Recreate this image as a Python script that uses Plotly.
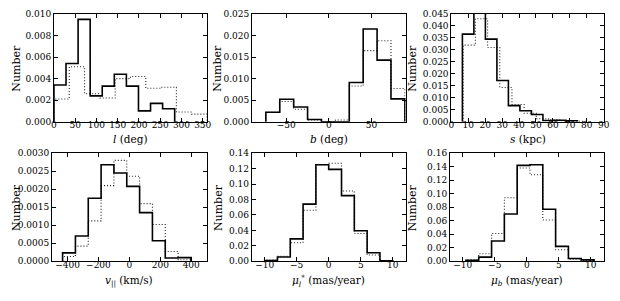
import plotly.graph_objects as go

# ---------------- data ----------------
# Panel 1: l (deg)
l_edges_solid = [0, 28.4, 56.8, 85.2, 113.6, 142.0, 170.4, 198.8, 227.2, 255.6, 284.0]
l_vals_solid = [0.0034, 0.0054, 0.0095, 0.0024, 0.0033, 0.0044, 0.0033, 0.0010, 0.0017, 0.0012]
l_edges_dot = [0, 36, 72, 108, 144, 180, 216, 252, 288, 324, 360]
l_vals_dot = [0.0021, 0.0051, 0.0026, 0.0022, 0.0040, 0.0042, 0.0031, 0.0032, 0.0009, 0.0007]

# Panel 2: b (deg)
b_edges_solid = [-73.8, -57.5, -41.2, -24.9, -8.6, 7.7, 24.0, 40.3, 56.6, 72.9, 89.2]
b_vals_solid = [0.0022, 0.0052, 0.0034, 0.0005, 0.0, 0.0, 0.0091, 0.0215, 0.0143, 0.0053]
b_edges_dot = [-73.8, -57.5, -41.2, -24.9, -8.6, 7.7, 24.0, 40.3, 56.6, 72.9, 89.2]
b_vals_dot = [0.0022, 0.0047, 0.0029, 0.0004, 0.0, 0.0004, 0.0083, 0.0165, 0.0188, 0.0077]

# Panel 3: s (kpc)
s_edges_solid = [6.5, 13.3, 20.1, 26.9, 33.7, 40.5, 47.3, 54.1, 60.9, 67.7, 74.5]
s_vals_solid = [0.0366, 0.048, 0.0345, 0.0172, 0.0067, 0.0046, 0.0030, 0.0005, 0.0006, 0.0004]
s_edges_dot = [7.0, 14.2, 21.4, 28.6, 35.8, 43.0, 50.2, 57.4, 64.6, 71.8, 79.0]
s_vals_dot = [0.032, 0.043, 0.031, 0.0143, 0.0072, 0.0035, 0.0012, 0.0008, 0.0004, 0.0002]

# Panel 4: v_|| (km/s)
v_edges_solid = [-432, -349, -266, -183, -100, -17, 66, 149, 232, 315, 398]
v_vals_solid = [0.00023, 0.00070, 0.00175, 0.00268, 0.00245, 0.00208, 0.00135, 0.00057, 0.00009, 0.00010]
v_edges_dot = [-432, -349, -266, -183, -100, -17, 66, 149, 232, 315, 398]
v_vals_dot = [0.00013, 0.00042, 0.00112, 0.00210, 0.00280, 0.00236, 0.00160, 0.00102, 0.00027, 0.00004]

# Panel 5: mu_l* (mas/year)
ml_edges_solid = [-10, -8, -6, -4, -2, 0, 2, 4, 6, 8, 10]
ml_vals_solid = [0.001, 0.0055, 0.029, 0.074, 0.125, 0.119, 0.085, 0.0395, 0.011, 0.0005]
ml_edges_dot = [-10, -8, -6, -4, -2, 0, 2, 4, 6, 8, 10]
ml_vals_dot = [0.0015, 0.0065, 0.024, 0.066, 0.125, 0.127, 0.091, 0.036, 0.008, 0.001]

# Panel 6: mu_b (mas/year)
mb_edges_solid = [-9.5, -7.5, -5.5, -3.5, -1.5, 0.5, 2.5, 4.5, 6.5, 8.5, 10.5]
mb_vals_solid = [0.0015, 0.006, 0.030, 0.070, 0.142, 0.143, 0.077, 0.022, 0.004, 0.002]
mb_edges_dot = [-9.5, -7.5, -5.5, -3.5, -1.5, 0.5, 2.5, 4.5, 6.5, 8.5, 10.5]
mb_vals_dot = [0.002, 0.011, 0.041, 0.094, 0.138, 0.128, 0.061, 0.017, 0.003, 0.001]

x_titles = ["<i>l</i> (deg)", "<i>b</i> (deg)", "<i>s</i> (kpc)",
            "<i>v</i><sub>||</sub> (km/s)", "<i>μ</i><sub><i>l</i></sub><sup>*</sup> (mas/year)",
            "<i>μ</i><sub><i>b</i></sub> (mas/year)"]
y_title = "Number"
x_ranges = [[0, 360], [-90, 90], [0, 90], [-500, 500], [-12, 12], [-12, 12]]
x_dticks = [50, 50, 10, 200, 5, 5]
y_ranges = [[0, 0.010], [0, 0.025], [0, 0.045], [0, 0.0030], [0, 0.14], [0, 0.16]]
y_dticks = [0.002, 0.005, 0.005, 0.0005, 0.02, 0.02]
y_formats = [".3f", ".3f", ".3f", ".4f", ".2f", ".2f"]

panels = [
    (l_edges_solid, l_vals_solid, l_edges_dot, l_vals_dot),
    (b_edges_solid, b_vals_solid, b_edges_dot, b_vals_dot),
    (s_edges_solid, s_vals_solid, s_edges_dot, s_vals_dot),
    (v_edges_solid, v_vals_solid, v_edges_dot, v_vals_dot),
    (ml_edges_solid, ml_vals_solid, ml_edges_dot, ml_vals_dot),
    (mb_edges_solid, mb_vals_solid, mb_edges_dot, mb_vals_dot),
]

# ---------------- layout geometry (pixels) ----------------
W, H = 620, 301
x_px = [(51.7, 207.0), (252.7, 408.5), (455.0, 609.5),
        (49.8, 206.7), (252.5, 408.5), (453.5, 609.5)]
y_px = [(9.3, 120.7)] * 3 + [(153.3, 265.0)] * 3
xtitle_y = [139, 139, 139, 285, 285, 285]
ytitle_x = [14, 218, 416, 13, 218, 415]

FONT = "DejaVu Serif"
TICK_SIZE = 9
TITLE_SIZE = 10.5


def step_xy(edges, vals):
    xs = [edges[0]]
    ys = [0]
    for i, v in enumerate(vals):
        xs += [edges[i], edges[i + 1]]
        ys += [v, v]
    xs.append(edges[-1])
    ys.append(0)
    return xs, ys


fig = go.Figure()
layout = dict(
    width=W, height=H,
    margin=dict(l=0, r=0, t=0, b=0),
    paper_bgcolor="white", plot_bgcolor="white",
    showlegend=False,
    font=dict(family=FONT, size=TICK_SIZE, color="black"),
)
annotations = []

for i, (es, vs, ed, vd) in enumerate(panels):
    n = i + 1
    xa = "x" if n == 1 else f"x{n}"
    ya = "y" if n == 1 else f"y{n}"
    xs, ys = step_xy(ed, vd)
    fig.add_trace(go.Scatter(x=xs, y=ys, mode="lines", xaxis=xa, yaxis=ya,
                             line=dict(color="#222222", width=1.1, dash="1px,2px"),
                             hoverinfo="skip"))
    xs, ys = step_xy(es, vs)
    fig.add_trace(go.Scatter(x=xs, y=ys, mode="lines", xaxis=xa, yaxis=ya,
                             line=dict(color="black", width=1.6),
                             hoverinfo="skip"))
    x0, x1 = x_px[i]
    y0, y1 = y_px[i]
    common = dict(showline=True, linecolor="black", linewidth=1, mirror="ticks",
                  ticks="inside", ticklen=4, tickwidth=1, tickcolor="black",
                  showgrid=False, zeroline=False, tickangle=0,
                  tickfont=dict(family=FONT, size=TICK_SIZE, color="black"))
    layout["xaxis" if n == 1 else f"xaxis{n}"] = dict(
        common, domain=[x0 / W, x1 / W], anchor=ya, range=x_ranges[i],
        dtick=x_dticks[i], tick0=0, ticklabelstandoff=-5)
    layout["yaxis" if n == 1 else f"yaxis{n}"] = dict(
        common, domain=[1 - y1 / H, 1 - y0 / H], anchor=xa, range=y_ranges[i],
        dtick=y_dticks[i], tick0=0, tickformat=y_formats[i])
    annotations.append(dict(
        text=x_titles[i], xref="paper", yref="paper",
        x=(x0 + x1) / 2 / W, y=1 - xtitle_y[i] / H,
        xanchor="center", yanchor="middle", showarrow=False,
        font=dict(family=FONT, size=TITLE_SIZE, color="black")))
    annotations.append(dict(
        text=y_title, xref="paper", yref="paper",
        x=ytitle_x[i] / W, y=1 - (y0 + y1) / 2 / H, textangle=-90,
        xanchor="center", yanchor="middle", showarrow=False,
        font=dict(family=FONT, size=TITLE_SIZE + 0.5, color="black")))

layout["annotations"] = annotations
fig.update_layout(**layout)
fig.write_html("out.html", config={"displayModeBar": False},
               post_script="document.body.style.margin='0';document.body.style.padding='0';")
